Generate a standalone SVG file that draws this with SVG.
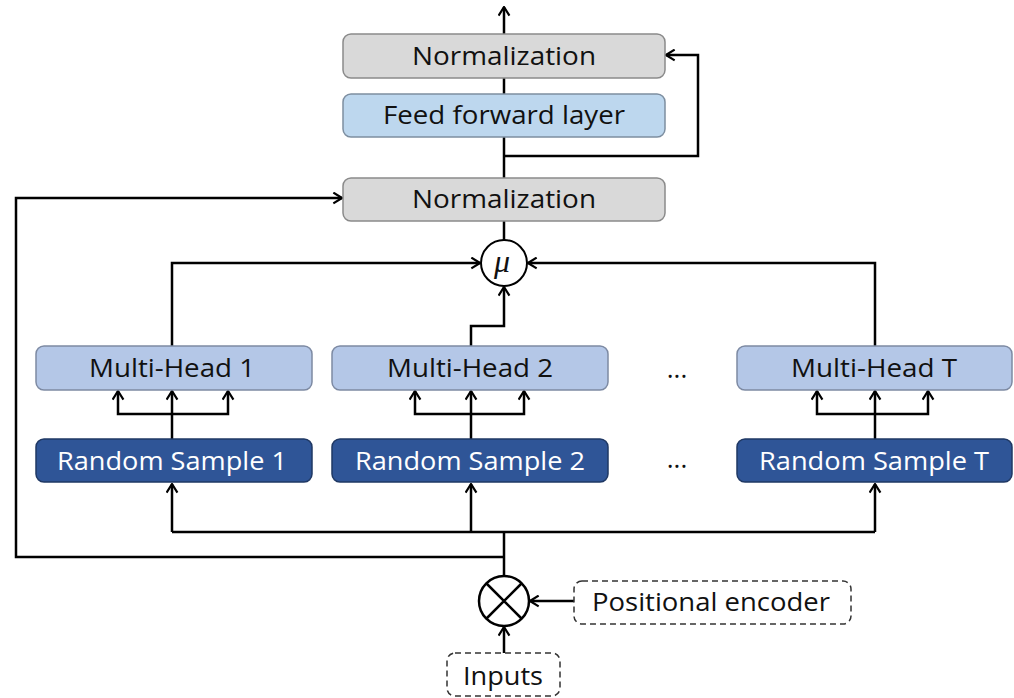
<svg xmlns="http://www.w3.org/2000/svg" width="1014" height="698" viewBox="0 0 1014 698">
<defs>
<marker id="arr" viewBox="0 0 10 12" refX="9" refY="6" markerWidth="11" markerHeight="13" markerUnits="userSpaceOnUse" orient="auto">
<path d="M1,1 L9,6 L1,11" fill="none" stroke="#000" stroke-width="2"/>
</marker>
<style>
.gray{fill:#d9d9d9;stroke:#8a8a8a;stroke-width:1.5}
.ff{fill:#bdd7ee;stroke:#7d8ea0;stroke-width:1.5}
.mh{fill:#b4c7e7;stroke:#7d8aa3;stroke-width:1.5}
.rs{fill:#2f5597;stroke:#1f3864;stroke-width:1.5}
.dash{fill:#fff;stroke:#333;stroke-width:1.5;stroke-dasharray:6 4}
.t{font-family:"Open Sans","Liberation Sans",sans-serif;font-size:26px;fill:#111;text-anchor:middle}
.w{fill:#fff}
.c{fill:none;stroke:#000;stroke-width:2.5}
.a{marker-end:url(#arr)}
</style>
</defs>
<rect width="1014" height="698" fill="#fff"/>
<g id="connectors">
<path class="c a" d="M504,34 V7"/>
<path class="c" d="M504,78 V94"/>
<path class="c" d="M504,178 V137"/>
<path class="c a" d="M504,156 H698 V55 H666"/>
<path class="c" d="M504,240 V221"/>
<path class="c a" d="M172,346 V263 H480"/>
<path class="c a" d="M875,346 V263 H528"/>
<path class="c a" d="M471,346 V326 H504 V287"/>
<path class="c a" d="M172,439 V391"/>
<path class="c a" d="M172,414 H118 V391"/>
<path class="c a" d="M172,414 H228 V391"/>
<path class="c a" d="M471,439 V391"/>
<path class="c a" d="M471,414 H415 V391"/>
<path class="c a" d="M471,414 H524 V391"/>
<path class="c a" d="M875,439 V391"/>
<path class="c a" d="M875,414 H817 V391"/>
<path class="c a" d="M875,414 H928 V391"/>
<path class="c" d="M504,576 V532 M172,532 H875"/>
<path class="c a" d="M172,532 V484"/>
<path class="c a" d="M471,532 V484"/>
<path class="c a" d="M875,532 V484"/>
<path class="c a" d="M504,557 H16 V198 H342"/>
<path class="c a" d="M574,601 H530"/>
<path class="c a" d="M504,653 V627"/>
</g>
<g id="norm-top"><rect class="gray" x="343" y="34" width="322" height="44" rx="8"/><text class="t" x="504" y="65" textLength="184" lengthAdjust="spacingAndGlyphs">Normalization</text></g>
<g id="feed-forward"><rect class="ff" x="343" y="94" width="322" height="43" rx="8"/><text class="t" x="504" y="124" textLength="242" lengthAdjust="spacingAndGlyphs">Feed forward layer</text></g>
<g id="norm-bottom"><rect class="gray" x="343" y="178" width="322" height="43" rx="8"/><text class="t" x="504" y="208" textLength="184" lengthAdjust="spacingAndGlyphs">Normalization</text></g>
<g id="mu"><circle cx="504" cy="263" r="23" fill="#fff" stroke="#000" stroke-width="2"/><text x="502" y="272" font-family="Liberation Serif, serif" font-style="italic" font-size="32" text-anchor="middle" fill="#111">μ</text></g>
<g id="mh1"><rect class="mh" x="36" y="346" width="276" height="44" rx="8"/><text class="t" x="172" y="377" textLength="166" lengthAdjust="spacingAndGlyphs">Multi-Head 1</text></g>
<g id="mh2"><rect class="mh" x="332" y="346" width="276" height="44" rx="8"/><text class="t" x="470" y="377" textLength="166" lengthAdjust="spacingAndGlyphs">Multi-Head 2</text></g>
<g id="mhT"><rect class="mh" x="737" y="346" width="275" height="44" rx="8"/><text class="t" x="874" y="377" textLength="166" lengthAdjust="spacingAndGlyphs">Multi-Head T</text></g>
<g id="rs1"><rect class="rs" x="36" y="439" width="276" height="43" rx="8"/><text class="t w" x="172" y="470" textLength="230" lengthAdjust="spacingAndGlyphs">Random Sample 1</text></g>
<g id="rs2"><rect class="rs" x="332" y="439" width="276" height="43" rx="8"/><text class="t w" x="470" y="470" textLength="230" lengthAdjust="spacingAndGlyphs">Random Sample 2</text></g>
<g id="rsT"><rect class="rs" x="737" y="439" width="275" height="43" rx="8"/><text class="t w" x="874" y="470" textLength="230" lengthAdjust="spacingAndGlyphs">Random Sample T</text></g>
<g id="dots"><text class="t" x="677" y="378" font-size="22">...</text><text class="t" x="677" y="468" font-size="22">...</text></g>
<g id="multiply"><circle cx="504" cy="601" r="25" fill="#fff" stroke="#000" stroke-width="2.5"/><path d="M486,583 L522,619 M522,583 L486,619" stroke="#000" stroke-width="2.5"/></g>
<g id="pos-enc"><rect class="dash" x="574" y="581" width="277" height="43" rx="8"/><text class="t" x="711" y="611" textLength="238" lengthAdjust="spacingAndGlyphs">Positional encoder</text></g>
<g id="inputs"><rect class="dash" x="447" y="653" width="113" height="43" rx="8"/><text class="t" x="503" y="685" textLength="80" lengthAdjust="spacingAndGlyphs">Inputs</text></g>
</svg>
